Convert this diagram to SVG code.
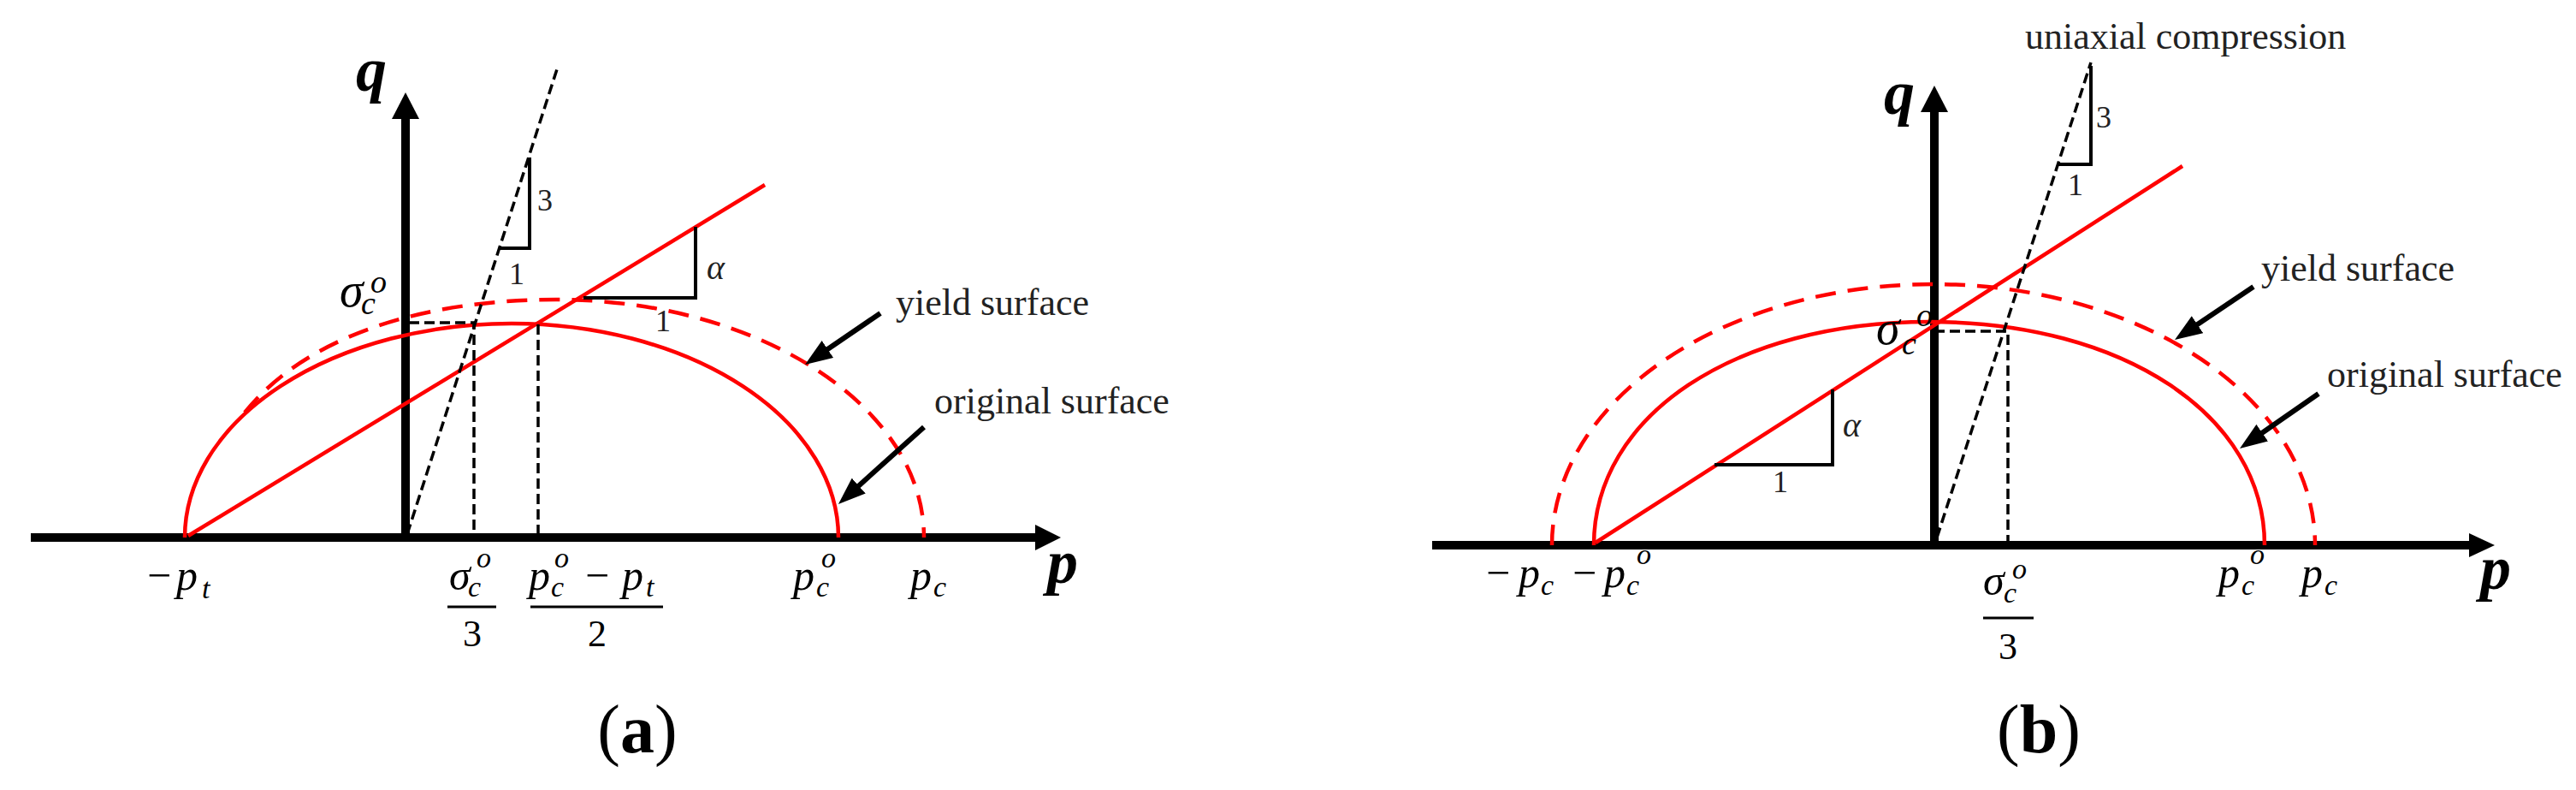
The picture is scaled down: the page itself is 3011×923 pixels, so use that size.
<svg xmlns="http://www.w3.org/2000/svg" width="3011" height="923" viewBox="0 0 3011 923">
<defs>
<style>
.axis{stroke:#000;stroke-width:10;fill:none}
.head{fill:#000}
.red{stroke:#f00;stroke-width:4.5;fill:none}
.redd{stroke:#f00;stroke-width:4.5;fill:none;stroke-dasharray:24 14}
.blkd{stroke:#000;stroke-width:3.5;fill:none;stroke-dasharray:12 6}
.tri{stroke:#000;stroke-width:4;fill:none}
.bar{stroke:#000;stroke-width:3}
.ptr{stroke:#000;stroke-width:6;fill:none;marker-end:url(#ah)}
.mb{font-family:"Liberation Serif",serif;font-style:italic;font-size:56px;fill:#000}
.sb{font-family:"Liberation Serif",serif;font-style:italic;font-size:38px;fill:#000}
.m{font-family:"Liberation Serif",serif;font-style:italic;font-size:50px;fill:#000}
.s{font-family:"Liberation Serif",serif;font-style:italic;font-size:34px;fill:#000}
.u{font-family:"Liberation Serif",serif;font-size:50px;fill:#000}
.n{font-family:"Liberation Serif",serif;font-size:44px;fill:#000}
.ax{font-family:"Liberation Serif",serif;font-style:italic;font-weight:bold;font-size:72px;fill:#000}
.lbl{font-family:"Liberation Serif",serif;font-size:44px;fill:#222}
.sm{font-family:"Liberation Serif",serif;font-size:36px;fill:#222}
.smi{font-family:"Liberation Serif",serif;font-style:italic;font-size:40px;fill:#222}
.cap{font-family:"Liberation Serif",serif;font-size:80px;fill:#000}
</style>
<marker id="ah" markerUnits="userSpaceOnUse" markerWidth="32" markerHeight="24" viewBox="0 0 32 24" refX="8" refY="12" orient="auto">
<path d="M0 0 L32 12 L0 24 z" fill="#000"/>
</marker>
</defs>
<rect width="3011" height="923" fill="#fff"/>

<!-- ================= Panel (a) ================= -->
<g id="a-axes">
<line class="axis" x1="36" y1="628" x2="1215" y2="628"/>
<polygon class="head" points="1240,628 1210,613 1210,643"/>
<line class="axis" x1="474" y1="633" x2="474" y2="134"/>
<polygon class="head" points="474,108 458,139 490,139"/>
<text class="ax" x="416" y="106">q</text>
<text class="ax" x="1224" y="681">p</text>
</g>
<g id="a-original-surface">
<path class="red" d="M216 628 A382 250 0 0 1 980 628"/>
</g>
<g id="a-yield-surface">
<path class="redd" d="M286 482 C360 390 500 350 650 350 C887 350 1080 475 1080 628"/>
</g>
<g id="a-red-line">
<line class="red" x1="220" y1="626" x2="894" y2="216"/>
</g>
<g id="a-uniaxial-line">
<line class="blkd" x1="476" y1="624" x2="651" y2="81"/>
<polyline class="blkd" points="478,377 554,377 554,628"/>
<line class="blkd" x1="629" y1="379" x2="629" y2="628"/>
</g>
<g id="a-slope-3">
<polyline class="tri" points="584,290 619,290 619,184"/>
<text class="sm" x="628" y="246">3</text>
<text class="sm" x="595" y="332">1</text>
</g>
<g id="a-slope-alpha">
<polyline class="tri" points="682,348 813,348 813,265"/>
<text class="smi" x="826" y="326">α</text>
<text class="sm" x="766" y="387">1</text>
</g>
<g id="a-labels">
<text class="mb" x="397" y="358">σ</text><text class="sb" x="422" y="367">c</text><text class="sb" x="433" y="342">o</text>
<text class="u" x="172" y="689">−</text><text class="m" x="206" y="689">p</text><text class="s" x="236" y="699">t</text>
<text class="m" x="525" y="689">σ</text><text class="s" x="547" y="697">c</text><text class="s" x="557" y="663">o</text>
<line class="bar" x1="523" y1="709" x2="580" y2="709"/>
<text class="n" x="552" y="755" text-anchor="middle">3</text>
<text class="m" x="618" y="689">p</text><text class="s" x="644" y="697">c</text><text class="s" x="648" y="663">o</text>
<text class="u" x="684" y="689">−</text><text class="m" x="727" y="689">p</text><text class="s" x="755" y="697">t</text>
<line class="bar" x1="620" y1="709" x2="775" y2="709"/>
<text class="n" x="698" y="755" text-anchor="middle">2</text>
<text class="m" x="927" y="689">p</text><text class="s" x="954" y="697">c</text><text class="s" x="960" y="663">o</text>
<text class="m" x="1064" y="689">p</text><text class="s" x="1091" y="697">c</text>
<text class="lbl" x="1047" y="368" font-size="40">yield surface</text>
<text class="lbl" x="1092" y="483" font-size="42">original surface</text>
<text class="cap" x="745" y="879" text-anchor="middle">(<tspan font-weight="bold">a</tspan>)</text>
</g>

<!-- ================= Panel (b) ================= -->
<g id="b-axes">
<line class="axis" x1="1674" y1="637" x2="2892" y2="637"/>
<polygon class="head" points="2916,637 2886,623 2886,651"/>
<line class="axis" x1="2261" y1="642" x2="2261" y2="126"/>
<polygon class="head" points="2261,100 2245,131 2277,131"/>
<text class="ax" x="2202" y="133">q</text>
<text class="ax" x="2899" y="688">p</text>
</g>
<g id="b-original-surface">
<path class="red" d="M1863 637 C1863 485.6 2027.6 376 2255 376 C2482.4 376 2647 485.6 2647 637"/>
</g>
<g id="b-yield-surface">
<path class="redd" d="M1814 637 A446 305 0 0 1 2706 637"/>
</g>
<g id="b-red-line">
<line class="red" x1="1865" y1="634" x2="2551" y2="194"/>
</g>
<g id="b-uniaxial-line">
<line class="blkd" x1="2264" y1="628" x2="2444" y2="73"/>
<polyline class="blkd" points="2261,387 2347,387 2347,637"/>
</g>
<g id="b-slope-3">
<polyline class="tri" points="2406,192 2444,192 2444,77"/>
<text class="sm" x="2450" y="149">3</text>
<text class="sm" x="2417" y="228">1</text>
</g>
<g id="b-slope-alpha">
<polyline class="tri" points="2004,543 2142,543 2142,455"/>
<text class="smi" x="2154" y="510">α</text>
<text class="sm" x="2072" y="575">1</text>
</g>
<g id="b-labels">
<text class="lbl" x="2367" y="57">uniaxial compression</text>
<text class="mb" x="2193" y="402">σ</text><text class="sb" x="2223" y="414">c</text><text class="sb" x="2240" y="381">o</text>
<text class="u" x="1737" y="686">−</text><text class="m" x="1775" y="686">p</text><text class="s" x="1801" y="695">c</text>
<text class="u" x="1838" y="686">−</text><text class="m" x="1875" y="686">p</text><text class="s" x="1901" y="695">c</text><text class="s" x="1913" y="659">o</text>
<text class="m" x="2318" y="695">σ</text><text class="s" x="2342" y="704">c</text><text class="s" x="2352" y="676">o</text>
<line class="bar" x1="2318" y1="722" x2="2377" y2="722"/>
<text class="n" x="2347" y="770" text-anchor="middle">3</text>
<text class="m" x="2593" y="686">p</text><text class="s" x="2620" y="695">c</text><text class="s" x="2630" y="659">o</text>
<text class="m" x="2690" y="686">p</text><text class="s" x="2717" y="695">c</text>
<text class="lbl" x="2643" y="328">yield surface</text>
<text class="lbl" x="2720" y="452">original surface</text>
<text class="cap" x="2383" y="879" text-anchor="middle">(<tspan font-weight="bold">b</tspan>)</text>
</g>

<g id="connectors">
<line class="ptr" x1="1029" y1="366" x2="960.8" y2="412.5"/>
<line class="ptr" x1="1080" y1="499" x2="997.8" y2="572.9"/>
<line class="ptr" x1="2634" y1="335" x2="2561.9" y2="383.6"/>
<line class="ptr" x1="2710" y1="460" x2="2637.7" y2="510.3"/>
</g>
</svg>
